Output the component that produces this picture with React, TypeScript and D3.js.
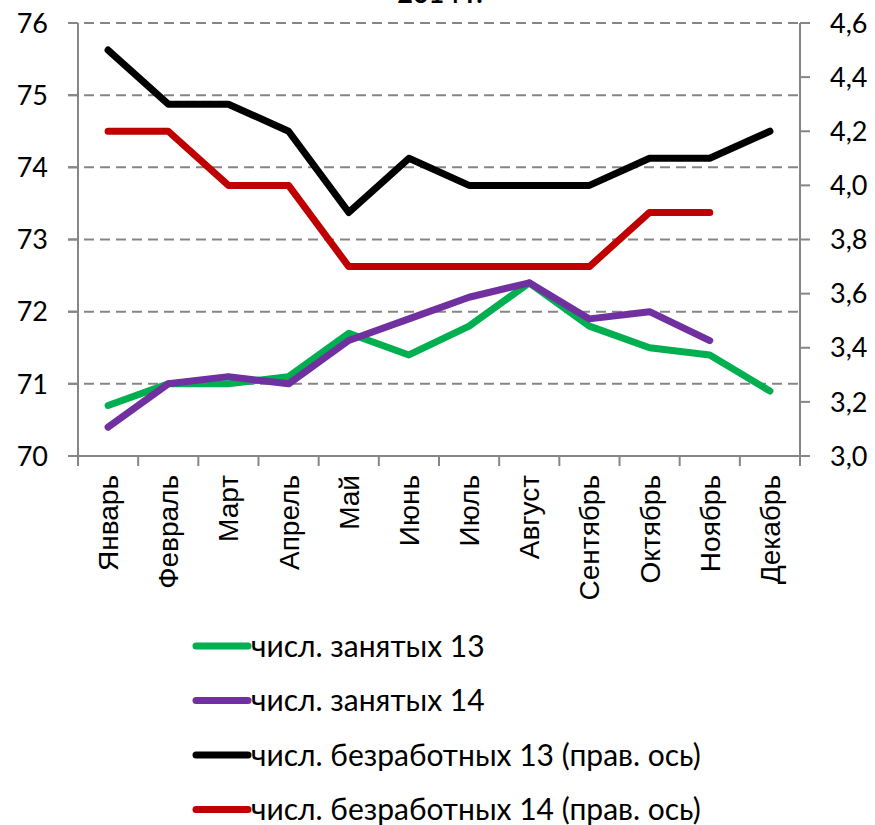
import React from "react";
import * as d3 from "d3";

const months = ["Январь","Февраль","Март","Апрель","Май","Июнь","Июль","Август","Сентябрь","Октябрь","Ноябрь","Декабрь"];
const employed13 = [70.7, 71.0, 71.0, 71.1, 71.7, 71.4, 71.8, 72.4, 71.8, 71.5, 71.4, 70.9];
const employed14 = [70.4, 71.0, 71.1, 71.0, 71.6, 71.9, 72.2, 72.4, 71.9, 72.0, 71.6];
const unemployed13 = [4.5, 4.3, 4.3, 4.2, 3.9, 4.1, 4.0, 4.0, 4.0, 4.1, 4.1, 4.2];
const unemployed14 = [4.2, 4.2, 4.0, 4.0, 3.7, 3.7, 3.7, 3.7, 3.7, 3.9, 3.9];
const leftTicks = [70, 71, 72, 73, 74, 75, 76];
const rightTicks = [3.0, 3.2, 3.4, 3.6, 3.8, 4.0, 4.2, 4.4, 4.6];
const seriesNames = ["числ. занятых 13", "числ. занятых 14", "числ. безработных 13 (прав. ось)", "числ. безработных 14 (прав. ось)"];
const title = "2014 г.";

const W = 875, H = 825;
const L = 78, R = 800, T = 23, B = 456;
const colors = ["#00b050", "#7030a0", "#000000", "#c00000"];
const axisColor = "#868686";
const font = "Lato, 'Open Sans', sans-serif";

export default function App() {
  const x = d3.scaleBand<string>().domain(months).range([L, R]);
  const yL = d3.scaleLinear().domain([70, 76]).range([B, T]);
  const yR = d3.scaleLinear().domain([3.0, 4.6]).range([B, T]);
  const cx = (i: number) => (x(months[i]) as number) + x.bandwidth() / 2;
  const lineL = d3.line<number>().x((_, i) => cx(i)).y(d => yL(d));
  const lineR = d3.line<number>().x((_, i) => cx(i)).y(d => yR(d));
  const series = [
    { d: lineL(employed13), c: colors[0] },
    { d: lineL(employed14), c: colors[1] },
    { d: lineR(unemployed13), c: colors[2] },
    { d: lineR(unemployed14), c: colors[3] },
  ];
  const fmt = (v: number) => v.toFixed(1).replace(".", ",");
  const bandEdges = months.map(m => x(m) as number).concat([R]);

  return (
    <svg width={W} height={H} style={{ position: "absolute", left: 0, top: 0, background: "#fff" }}>
      <text x={440} y={3} textAnchor="middle" fontFamily={font} fontWeight="bold" fontSize={27} fill="#000">{title}</text>
      {leftTicks.filter(t => t !== 70).map(t => (
        <line key={"g" + t} x1={L - 10} x2={R} y1={yL(t)} y2={yL(t)} stroke={axisColor} strokeWidth={2} strokeDasharray="10,6" />
      ))}
      {/* left axis */}
      <line x1={L} x2={L} y1={T} y2={B} stroke={axisColor} strokeWidth={2} />
      {leftTicks.map(t => (
        <g key={"l" + t}>
          <line x1={L - 10} x2={L} y1={yL(t)} y2={yL(t)} stroke={axisColor} strokeWidth={2} />
          <text x={48} y={yL(t)} dy="0.36em" textAnchor="end" fontFamily={font} fontSize={27} fill="#000">{t}</text>
        </g>
      ))}
      {/* right axis */}
      <line x1={R} x2={R} y1={T} y2={B} stroke={axisColor} strokeWidth={2} />
      {rightTicks.map(t => (
        <g key={"r" + t}>
          <line x1={R} x2={R + 10} y1={yR(t)} y2={yR(t)} stroke={axisColor} strokeWidth={2} />
          <text x={830} y={yR(t)} dy="0.36em" textAnchor="start" fontFamily={font} fontSize={27} fill="#000">{fmt(t)}</text>
        </g>
      ))}
      {/* x axis */}
      <line x1={L - 10} x2={R + 10} y1={B} y2={B} stroke={axisColor} strokeWidth={2} />
      {bandEdges.map((e, i) => (
        <line key={"xt" + i} x1={e} x2={e} y1={B} y2={B + 10} stroke={axisColor} strokeWidth={2} />
      ))}
      {months.map((m, i) => (
        <text key={m} transform={`translate(${cx(i) + 10},${B + 19}) rotate(-90)`} textAnchor="end"
          fontFamily="'Liberation Sans', Arial, sans-serif" fontSize={28} fill="#000">{m}</text>
      ))}
      {series.map((s, i) => (
        <path key={"s" + i} d={s.d || ""} fill="none" stroke={s.c} strokeWidth={7} strokeLinejoin="round" strokeLinecap="round" />
      ))}
      {seriesNames.map((n, i) => {
        const y = 646 + i * 54.5;
        return (
          <g key={"lg" + i}>
            <line x1={196} x2={248} y1={y} y2={y} stroke={colors[i]} strokeWidth={7} strokeLinecap="round" />
            <text x={251} y={y} dy="0.36em" fontFamily={font} fontSize={30} fill="#000">{n}</text>
          </g>
        );
      })}
    </svg>
  );
}
